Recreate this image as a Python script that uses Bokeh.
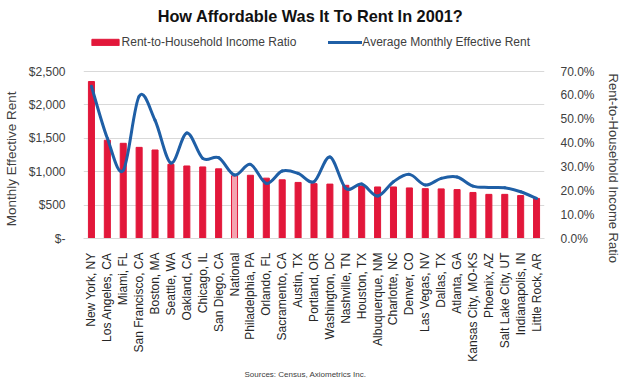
from bokeh.plotting import figure
from bokeh.models import (FactorRange, Range1d, LinearAxis, FixedTicker, NumeralTickFormatter,
                          Legend, LegendItem, Label, ColumnDataSource, Title)
from bokeh.embed import file_html
from bokeh.resources import INLINE

# ---------------- data ----------------
cities = ["New York, NY", "Los Angeles, CA", "Miami, FL", "San Francisco, CA", "Boston, MA",
          "Seattle, WA", "Oakland, CA", "Chicago, IL", "San Diego, CA", "National",
          "Philadelphia, PA", "Orlando, FL", "Sacramento, CA", "Austin, TX", "Portland, OR",
          "Washington, DC", "Nashville, TN", "Houston, TX", "Albuquerque, NM", "Charlotte, NC",
          "Denver, CO", "Las Vegas, NV", "Dallas, TX", "Atlanta, GA", "Kansas City, MO-KS",
          "Phoenix, AZ", "Salt Lake City, UT", "Indianapolis, IN", "Little Rock, AR"]
ratio = [0.658, 0.412, 0.399, 0.382, 0.371, 0.311, 0.304, 0.300, 0.292, 0.263,
         0.265, 0.253, 0.246, 0.235, 0.230, 0.228, 0.223, 0.220, 0.216, 0.216,
         0.212, 0.209, 0.208, 0.205, 0.193, 0.185, 0.185, 0.180, 0.168]
rent = [2280, 1500, 1020, 2130, 1770, 1130, 1580, 1200, 1210, 950,
        1110, 825, 1010, 975, 850, 1220, 750, 815, 635, 850,
        960, 800, 900, 920, 785, 765, 760, 700, 600]
highlight = "National"
rent_ticks = [0, 500, 1000, 1500, 2000, 2500]
ratio_ticks = [0.0, 0.1, 0.2, 0.3, 0.4, 0.5, 0.6, 0.7]
rent_max = 2500
ratio_max = 0.7

title_text = "How Affordable Was It To Rent In 2001?"
bar_label = "Rent-to-Household Income Ratio"
line_label = "Average Monthly Effective Rent"
left_title = "Monthly Effective Rent"
right_title = "Rent-to-Household Income Ratio"
source_text = "Sources: Census, Axiometrics Inc."

# ---------------- style / layout ----------------
FONT = "Liberation Sans"
RED = "#e2173a"
PINK = "#f4a3b0"
BLUE = "#1f5fa6"
GRID = "#d9d9d9"
TXT = "#404040"
NBSP = "\u00a0"

FIG_H = 384
BORDER_BOTTOM = 146
FRAME_H = FIG_H - BORDER_BOTTOM      # frame reaches the top of the figure
PLOT_H = 167                         # pixel height of the value area (0..max)
scale_up = FRAME_H / PLOT_H          # head room above the value area for title/legend

p = figure(x_range=FactorRange(factors=cities), y_range=Range1d(0, rent_max * scale_up),
           width=624, height=FIG_H, output_backend="svg", toolbar_location=None,
           min_border_left=73, min_border_right=80, min_border_top=0,
           min_border_bottom=BORDER_BOTTOM)
p.extra_y_ranges = {"ratio": Range1d(0, ratio_max * scale_up)}
p.title.visible = False
p.outline_line_color = None
p.background_fill_color = "white"
p.border_fill_color = "white"

main_idx = [i for i, c in enumerate(cities) if c != highlight]
hi_idx = [i for i, c in enumerate(cities) if c == highlight]
src_main = ColumnDataSource(dict(city=[cities[i] for i in main_idx], ratio=[ratio[i] for i in main_idx]))
src_hi = ColumnDataSource(dict(city=[cities[i] for i in hi_idx], ratio=[ratio[i] for i in hi_idx]))

bars = p.vbar(x="city", top="ratio", width=0.38, source=src_main, y_range_name="ratio",
              fill_color=RED, line_color=RED)
p.vbar(x="city", top="ratio", width=0.38, source=src_hi, y_range_name="ratio",
       fill_color=PINK, line_color=RED, line_width=1)

# smoothed line (Catmull-Rom through the data points, drawn as Bezier segments)
n = len(cities)
xs = [i + 0.5 for i in range(n)]
t = 1.0 / 6.0
x0, y0, x1, y1, cx0, cy0, cx1, cy1 = [], [], [], [], [], [], [], []
for i in range(n - 1):
    im1 = max(i - 1, 0)
    ip2 = min(i + 2, n - 1)
    x0.append(xs[i]); y0.append(rent[i])
    x1.append(xs[i + 1]); y1.append(rent[i + 1])
    cx0.append(xs[i] + (xs[i + 1] - xs[im1]) * t)
    cy0.append(rent[i] + (rent[i + 1] - rent[im1]) * t)
    cx1.append(xs[i + 1] - (xs[ip2] - xs[i]) * t)
    cy1.append(rent[i + 1] - (rent[ip2] - rent[i]) * t)
curve = p.bezier(x0=x0, y0=y0, x1=x1, y1=y1, cx0=cx0, cy0=cy0, cx1=cx1, cy1=cy1,
                 line_color=BLUE, line_width=3, line_cap="round")

# grid
p.xgrid.visible = False
p.ygrid.ticker = FixedTicker(ticks=rent_ticks)
p.ygrid.grid_line_color = GRID

# left axis (label padded so that it centres on the value area, not the head room)
la = p.yaxis[0]
la.ticker = FixedTicker(ticks=rent_ticks)
la.formatter = NumeralTickFormatter(format="$0,0")
la.major_label_overrides = {0: "$-"}
la.axis_line_color = None
la.major_tick_line_color = None
la.minor_tick_line_color = None
la.major_label_standoff = 12
la.major_label_text_font = FONT
la.major_label_text_font_size = "12px"
la.major_label_text_color = TXT
la.axis_label = left_title + NBSP * 21
la.axis_label_text_font = FONT
la.axis_label_text_font_size = "13.5px"
la.axis_label_text_font_style = "normal"
la.axis_label_text_color = TXT
la.axis_label_standoff = 7

# right axis (label padded at its start so that it sits lower, like the reference)
ra = LinearAxis(y_range_name="ratio", ticker=FixedTicker(ticks=ratio_ticks),
                formatter=NumeralTickFormatter(format="0.0%"))
ra.axis_line_color = None
ra.major_tick_line_color = None
ra.minor_tick_line_color = None
ra.major_label_standoff = 10
ra.major_label_text_font = FONT
ra.major_label_text_font_size = "12px"
ra.major_label_text_color = TXT
ra.axis_label = NBSP * 27 + right_title
ra.axis_label_text_font = FONT
ra.axis_label_text_font_size = "13px"
ra.axis_label_text_font_style = "normal"
ra.axis_label_text_color = TXT
ra.axis_label_standoff = 8
if "axis_label_orientation" in ra.properties():
    ra.axis_label_orientation = "vertical"
p.add_layout(ra, "right")

# bottom axis
xa = p.xaxis[0]
xa.major_label_orientation = 3.14159265 / 2
xa.axis_line_color = GRID
xa.major_tick_line_color = None
xa.minor_tick_line_color = None
xa.major_label_standoff = 8
xa.major_label_text_font = FONT
xa.major_label_text_font_size = "12px"
xa.major_label_text_color = "#262626"

# legend (inside the frame's head room)
legend = Legend(items=[LegendItem(label=bar_label, renderers=[bars]),
                       LegendItem(label=line_label, renderers=[curve])],
                orientation="horizontal", location=(4.6, 188.7),
                glyph_width=34, glyph_height=8, label_height=8, label_standoff=0,
                spacing=32, padding=0, margin=0,
                border_line_color=None, background_fill_alpha=0,
                label_text_font=FONT, label_text_font_size="12px", label_text_color=TXT)
p.add_layout(legend, "center")

# title
p.add_layout(Label(x=227, y=222.3, x_units="screen", y_units="screen", text=title_text,
                   text_font=FONT, text_font_size="16.3px", text_font_style="bold",
                   text_color="#111111", text_align="center", text_baseline="middle"))

# source note below the category axis
src_title = Title(text=source_text, align="left", offset=161, standoff=7,
                  text_font=FONT, text_font_size="8px", text_font_style="normal",
                  text_color=TXT)
p.add_layout(src_title, "below")

open("out.html", "w").write(file_html(p, INLINE))
